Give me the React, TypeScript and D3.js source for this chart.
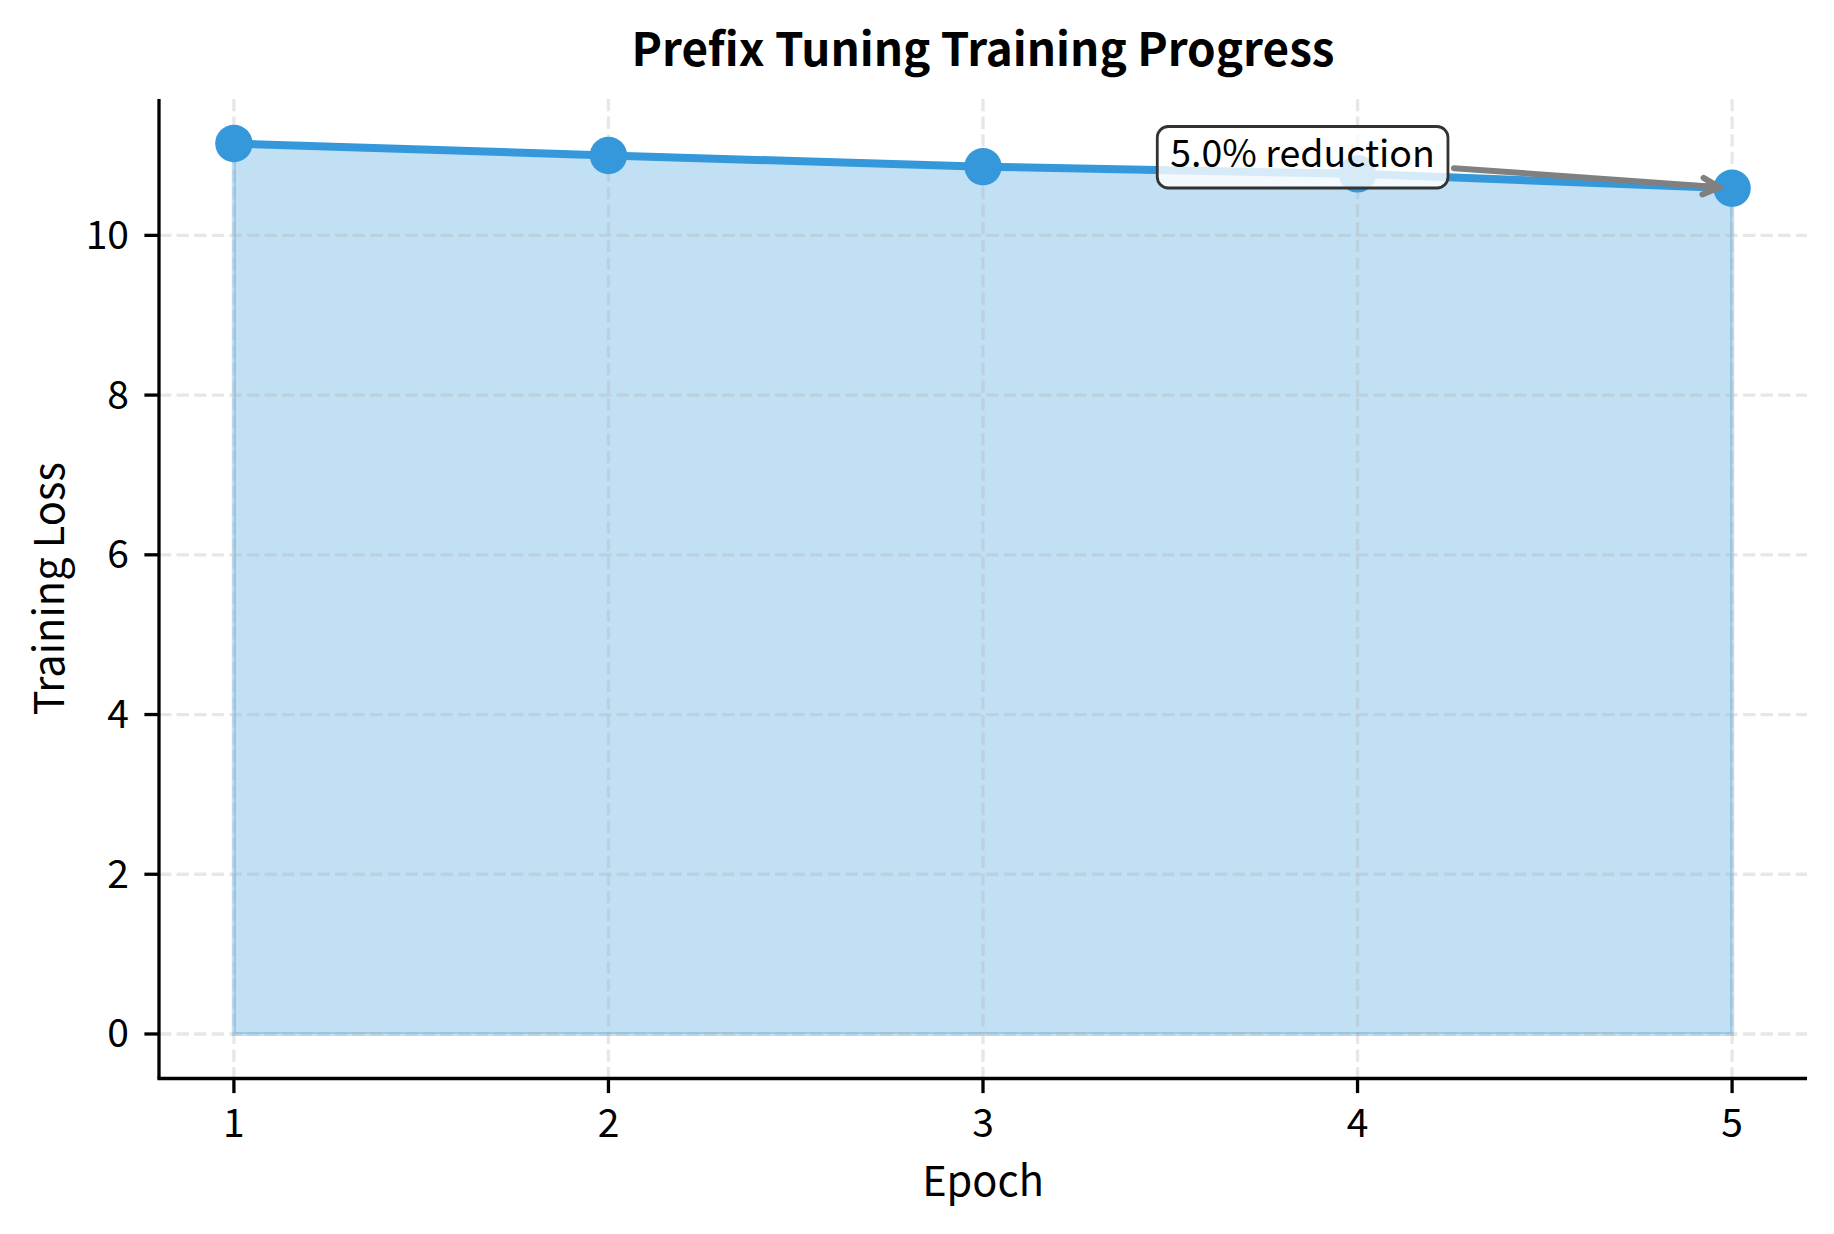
import { useEffect, useRef } from 'react'
import * as d3 from 'd3'

const epochs = [1, 2, 3, 4, 5]
const losses = [11.15, 11.0, 10.86, 10.77, 10.59]
const yTicks = [0, 2, 4, 6, 8, 10]
const annotationAt = { epoch: 3.5, loss: 10.85 }

const WIDTH = 1834
const HEIGHT = 1234
const FONT = "'Noto Sans CJK SC', 'Noto Sans', sans-serif"
const BLUE = '#3498db'
const TICK_SIZE = 39
const LABEL_SIZE = 41.5
const TITLE_SIZE = 45.8
const NOTE_SIZE = 37.5

export default function App() {
  const svgRef = useRef<SVGSVGElement>(null)

  useEffect(() => {
    if (!svgRef.current) return
    const svg = d3.select(svgRef.current)
    svg.selectAll('*').remove()

    const left = 159
    const right = 1807
    const top = 99
    const bottom = 1078.5

    // matplotlib-like 5% margins
    const xPad = (d3.max(epochs)! - d3.min(epochs)!) * 0.05
    const yMax = d3.max(losses)!
    const x = d3
      .scaleLinear()
      .domain([d3.min(epochs)! - xPad, d3.max(epochs)! + xPad])
      .range([left, right])
    const y = d3
      .scaleLinear()
      .domain([-yMax * 0.05, yMax * 1.05])
      .range([bottom, top])

    const data = epochs.map((e, i) => ({ e, v: losses[i] }))

    // area under the curve
    const area = d3
      .area<{ e: number; v: number }>()
      .x((d) => x(d.e))
      .y0(y(0))
      .y1((d) => y(d.v))
    svg
      .append('path')
      .attr('d', area(data)!)
      .attr('fill', BLUE)
      .attr('fill-opacity', 0.3)
      .attr('stroke', BLUE)
      .attr('stroke-opacity', 0.3)
      .attr('stroke-width', 4.2)

    // grid
    const grid = svg.append('g').attr('stroke', '#b0b0b0').attr('stroke-opacity', 0.3)
      .attr('stroke-width', 3.3).attr('stroke-dasharray', '12.3 5.3')
    grid
      .selectAll('.gx')
      .data(epochs)
      .enter()
      .append('line')
      .attr('x1', (d) => x(d))
      .attr('x2', (d) => x(d))
      .attr('y1', top)
      .attr('y2', bottom)
    grid
      .selectAll('.gy')
      .data(yTicks)
      .enter()
      .append('line')
      .attr('x1', left)
      .attr('x2', right)
      .attr('y1', (d) => y(d))
      .attr('y2', (d) => y(d))

    // line + markers
    const line = d3
      .line<{ e: number; v: number }>()
      .x((d) => x(d.e))
      .y((d) => y(d.v))
    svg
      .append('path')
      .attr('d', line(data)!)
      .attr('fill', 'none')
      .attr('stroke', BLUE)
      .attr('stroke-width', 8)
      .attr('stroke-linejoin', 'round')
    svg
      .selectAll('.dot')
      .data(data)
      .enter()
      .append('circle')
      .attr('cx', (d) => x(d.e))
      .attr('cy', (d) => y(d.v))
      .attr('r', 18.7)
      .attr('fill', BLUE)

    // spines
    const axisColor = '#000'
    svg.append('line').attr('x1', left).attr('x2', left).attr('y1', top).attr('y2', bottom)
      .attr('stroke', axisColor).attr('stroke-width', 3.3)
    svg.append('line').attr('x1', left - 1.6).attr('x2', right).attr('y1', bottom).attr('y2', bottom)
      .attr('stroke', axisColor).attr('stroke-width', 3.3)

    // y ticks
    const yt = svg.append('g')
    yt.selectAll('line')
      .data(yTicks)
      .enter()
      .append('line')
      .attr('x1', left - 14.6)
      .attr('x2', left)
      .attr('y1', (d) => y(d))
      .attr('y2', (d) => y(d))
      .attr('stroke', axisColor)
      .attr('stroke-width', 3.3)
    yt.selectAll('text')
      .data(yTicks)
      .enter()
      .append('text')
      .attr('x', 129)
      .attr('y', (d) => y(d) + 13.5)
      .attr('text-anchor', 'end')
      .attr('font-family', FONT)
      .attr('font-size', TICK_SIZE)
      .attr('fill', '#000')
      .text((d) => d)

    // x ticks
    const xt = svg.append('g')
    xt.selectAll('line')
      .data(epochs)
      .enter()
      .append('line')
      .attr('x1', (d) => x(d))
      .attr('x2', (d) => x(d))
      .attr('y1', bottom)
      .attr('y2', bottom + 14.6)
      .attr('stroke', axisColor)
      .attr('stroke-width', 3.3)
    xt.selectAll('text')
      .data(epochs)
      .enter()
      .append('text')
      .attr('x', (d) => x(d))
      .attr('y', 1137.3)
      .attr('text-anchor', 'middle')
      .attr('font-family', FONT)
      .attr('font-size', TICK_SIZE)
      .attr('fill', '#000')
      .text((d) => d)

    // axis labels + title
    svg.append('text')
      .attr('x', (left + right) / 2)
      .attr('y', 1196)
      .attr('text-anchor', 'middle')
      .attr('font-family', FONT)
      .attr('font-size', LABEL_SIZE)
      .text('Epoch')
    svg.append('text')
      .attr('transform', `translate(63.5,${(top + bottom) / 2}) rotate(-90)`)
      .attr('text-anchor', 'middle')
      .attr('font-family', FONT)
      .attr('font-size', LABEL_SIZE)
      .text('Training Loss')
    svg.append('text')
      .attr('x', (left + right) / 2)
      .attr('y', 66)
      .attr('text-anchor', 'middle')
      .attr('font-family', FONT)
      .attr('font-size', TITLE_SIZE)
      .attr('font-weight', 700)
      .text('Prefix Tuning Training Progress')

    // annotation
    const first = losses[0]
    const last = losses[losses.length - 1]
    const pct = ((first - last) / first) * 100
    const tx = x(annotationAt.epoch)
    const ty = y(annotationAt.loss)
    const ann = svg.append('g')
    const box = ann.append('rect')
    const label = ann.append('text')
      .attr('x', tx)
      .attr('y', ty)
      .attr('font-family', FONT)
      .attr('font-size', NOTE_SIZE)
      .attr('fill', '#000')
      .text(`${pct.toFixed(1)}% reduction`)
    const tw = (label.node() as SVGTextElement).getComputedTextLength()
    const bx0 = tx - 13
    const bx1 = tx + tw + 13
    const by0 = ty - 41
    const by1 = ty + 20.5
    box
      .attr('x', bx0)
      .attr('y', by0)
      .attr('width', bx1 - bx0)
      .attr('height', by1 - by0)
      .attr('rx', 11)
      .attr('fill', 'white')
      .attr('fill-opacity', 0.8)
      .attr('stroke', '#333')
      .attr('stroke-width', 2.8)

    // arrow from box edge to last point
    const px = x(epochs[epochs.length - 1])
    const py = y(last)
    const cx = (bx0 + bx1) / 2
    const cy = (by0 + by1) / 2
    const dx = px - cx
    const dy = py - cy
    const len = Math.hypot(dx, dy)
    const ux = dx / len
    const uy = dy / len
    const tEdge = (bx1 - cx) / ux
    const sx = cx + ux * (tEdge + 6)
    const sy = cy + uy * (tEdge + 6)
    const ex = px - ux * 12.5
    const ey = py - uy * 12.5
    const hl = 16.7
    const hw = 8.3
    const arrow = ann.append('g')
      .attr('stroke', '#808080')
      .attr('stroke-width', 6)
      .attr('fill', 'none')
      .attr('stroke-linecap', 'round')
      .attr('stroke-linejoin', 'round')
    arrow.append('path').attr('d', `M${sx},${sy}L${ex},${ey}`)
    arrow.append('path').attr(
      'd',
      `M${ex - ux * hl - uy * hw},${ey - uy * hl + ux * hw}L${ex},${ey}L${ex - ux * hl + uy * hw},${ey - uy * hl - ux * hw}`
    )
  }, [])

  return (
    <svg
      ref={svgRef}
      width={WIDTH}
      height={HEIGHT}
      style={{ position: 'absolute', left: 0, top: 0, background: 'white' }}
    />
  )
}
